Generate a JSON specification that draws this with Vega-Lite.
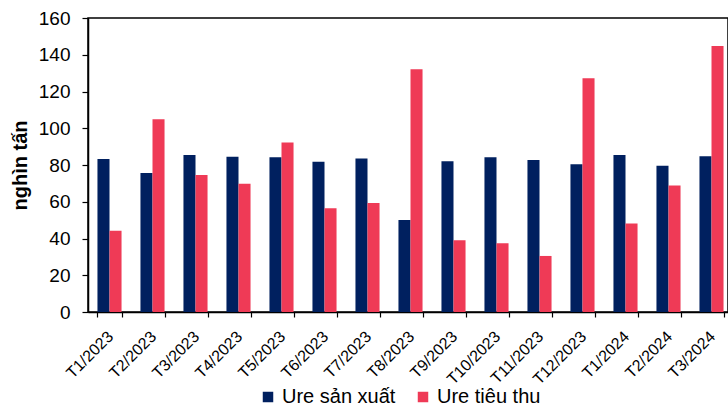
{
  "$schema": "https://vega.github.io/schema/vega-lite/v6.json",
  "autosize": "none",
  "padding": {"left": 88, "top": 18, "right": 0, "bottom": 97},
  "width": 640,
  "height": 294,
  "background": "white",
  "config": {
    "font": "Liberation Sans",
    "view": {"stroke": "black", "strokeWidth": 1.5},
    "axis": {"labelColor": "black", "titleColor": "black", "domainColor": "black", "tickColor": "black"}
  },
  "data": {
    "values": [
      {"month": "T1/2023", "series": "Ure sản xuất", "value": 83.3},
      {"month": "T1/2023", "series": "Ure tiêu thu", "value": 44.2},
      {"month": "T2/2023", "series": "Ure sản xuất", "value": 75.6},
      {"month": "T2/2023", "series": "Ure tiêu thu", "value": 104.9},
      {"month": "T3/2023", "series": "Ure sản xuất", "value": 85.4},
      {"month": "T3/2023", "series": "Ure tiêu thu", "value": 74.6},
      {"month": "T4/2023", "series": "Ure sản xuất", "value": 84.5},
      {"month": "T4/2023", "series": "Ure tiêu thu", "value": 69.8},
      {"month": "T5/2023", "series": "Ure sản xuất", "value": 84.2},
      {"month": "T5/2023", "series": "Ure tiêu thu", "value": 92.2},
      {"month": "T6/2023", "series": "Ure sản xuất", "value": 81.8},
      {"month": "T6/2023", "series": "Ure tiêu thu", "value": 56.4},
      {"month": "T7/2023", "series": "Ure sản xuất", "value": 83.6},
      {"month": "T7/2023", "series": "Ure tiêu thu", "value": 59.3},
      {"month": "T8/2023", "series": "Ure sản xuất", "value": 50.1},
      {"month": "T8/2023", "series": "Ure tiêu thu", "value": 132.1},
      {"month": "T9/2023", "series": "Ure sản xuất", "value": 82.0},
      {"month": "T9/2023", "series": "Ure tiêu thu", "value": 39.0},
      {"month": "T10/2023", "series": "Ure sản xuất", "value": 84.2},
      {"month": "T10/2023", "series": "Ure tiêu thu", "value": 37.4},
      {"month": "T11/2023", "series": "Ure sản xuất", "value": 82.7},
      {"month": "T11/2023", "series": "Ure tiêu thu", "value": 30.5},
      {"month": "T12/2023", "series": "Ure sản xuất", "value": 80.4},
      {"month": "T12/2023", "series": "Ure tiêu thu", "value": 127.2},
      {"month": "T1/2024", "series": "Ure sản xuất", "value": 85.4},
      {"month": "T1/2024", "series": "Ure tiêu thu", "value": 48.1},
      {"month": "T2/2024", "series": "Ure sản xuất", "value": 79.6},
      {"month": "T2/2024", "series": "Ure tiêu thu", "value": 68.8},
      {"month": "T3/2024", "series": "Ure sản xuất", "value": 84.7},
      {"month": "T3/2024", "series": "Ure tiêu thu", "value": 144.8}
    ]
  },
  "mark": {"type": "bar"},
  "encoding": {
    "x": {
      "field": "month",
      "type": "nominal",
      "sort": null,
      "scale": {"range": [0, 645], "paddingInner": 0.44, "paddingOuter": 0.22},
      "axis": {
        "title": null,
        "tickBand": "extent",
        "tickSize": 5,
        "labelAngle": -45,
        "labelAlign": "right",
        "labelBaseline": "top",
        "labelPadding": 11,
        "labelOffset": -5,
        "labelFontSize": 16,
        "labelFont": "Liberation Sans",
        "domainWidth": 1.5,
        "tickWidth": 1.2
      }
    },
    "xOffset": {
      "field": "series",
      "type": "nominal",
      "sort": ["Ure sản xuất", "Ure tiêu thu"],
      "scale": {"paddingInner": 0, "paddingOuter": 0}
    },
    "y": {
      "field": "value",
      "type": "quantitative",
      "scale": {"domain": [0, 160], "nice": false},
      "axis": {
        "title": "nghìn tấn",
        "titleFontSize": 20,
        "titleFont": "Liberation Sans",
        "titleFontWeight": "bold",
        "titlePadding": 8,
        "values": [0, 20, 40, 60, 80, 100, 120, 140, 160],
        "grid": false,
        "tickSize": 6,
        "labelPadding": 12,
        "labelFontSize": 19,
        "labelFont": "Liberation Sans",
        "domainWidth": 1.5,
        "tickWidth": 1.2
      }
    },
    "color": {
      "field": "series",
      "type": "nominal",
      "sort": ["Ure sản xuất", "Ure tiêu thu"],
      "scale": {"domain": ["Ure sản xuất", "Ure tiêu thu"], "range": ["#00205F", "#EF3A56"]},
      "legend": {
        "title": null,
        "orient": "none",
        "direction": "horizontal",
        "legendX": 170,
        "legendY": 369,
        "symbolType": "square",
        "symbolSize": 110,
        "symbolStrokeWidth": 0,
        "symbolOpacity": 1,
        "labelFontSize": 20,
        "labelFont": "Liberation Sans",
        "labelColor": "black",
        "labelOffset": 4,
        "columnPadding": 17
      }
    }
  }
}
